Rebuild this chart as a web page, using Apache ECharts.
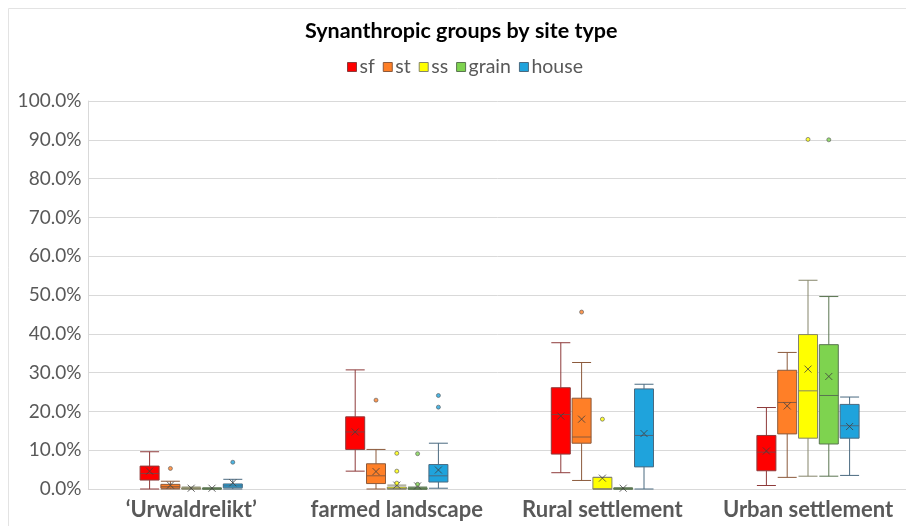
<!DOCTYPE html>
<html>
<head>
<meta charset="utf-8">
<title>Synanthropic groups by site type</title>
<script src="https://cdn.jsdelivr.net/npm/echarts@6/dist/echarts.min.js"></script>
<style>
  html, body { margin: 0; padding: 0; background: #fff; }
  #chart { width: 906px; height: 526px; }
</style>
</head>
<body>
<div id="chart"></div>
<script>
// categories and groups
var siteTypes = ['\u2018Urwaldrelikt\u2019', 'farmed landscape', 'Rural settlement', 'Urban settlement'];
var groupNames = ['sf', 'st', 'ss', 'grain', 'house'];

// y axis (percent)
var yMin = 0, yMax = 100, yStep = 10;

// box data per group, one row per site type: [min, Q1, median, Q3, max] in %
var sfBox = [[0, 2.3, 4.0, 5.9, 9.6], [4.6, 10.2, 14.7, 18.6, 30.7], [4.2, 9.0, 19.2, 26.1, 37.7], [0.9, 4.7, 9.5, 13.8, 21.0]];
var stBox = [[0, 0.2, 0.6, 1.2, 2.0], [0, 1.4, 3.4, 6.5, 10.2], [2.2, 11.8, 13.4, 23.4, 32.6], [3.0, 14.2, 22.3, 30.6, 35.2]];
var ssBox = [[0, 0, 0.1, 0.3, 0.5], [0, 0, 0.1, 0.5, 1.0], [0, 0, 0, 3.0, 3.0], [3.3, 13.1, 25.3, 39.8, 53.8]];
var grainBox = [[0, 0, 0, 0.2, 0.3], [0, 0, 0, 0.3, 0.5], [0, 0, 0, 0.2, 0.3], [3.3, 11.6, 24.1, 37.2, 49.6]];
var houseBox = [[0, 0.3, 0.8, 1.3, 2.5], [0.2, 1.8, 3.4, 6.3, 11.8], [0, 5.7, 13.8, 25.8, 27.0], [3.5, 13.1, 16.3, 21.8, 23.7]];

// means (the x markers)
var sfMean = [4.6, 14.7, 18.8, 9.8];
var stMean = [1.0, 4.5, 18.0, 21.4];
var ssMean = [0.2, 1.0, 2.8, 30.9];
var grainMean = [0.2, 0.8, 0.2, 29.0];
var houseMean = [1.6, 4.9, 14.3, 16.1];

// outliers: [site type index, value]
var sfOutliers = [];
var stOutliers = [[0, 5.3], [1, 22.9], [2, 45.6]];
var ssOutliers = [[1, 9.2], [1, 4.6], [1, 1.5], [2, 18.0], [3, 90.1]];
var grainOutliers = [[1, 9.1], [1, 1.2], [3, 90.0]];
var houseOutliers = [[0, 6.9], [1, 24.1], [1, 21.1]];

var boxes = [sfBox, stBox, ssBox, grainBox, houseBox];
var means = [sfMean, stMean, ssMean, grainMean, houseMean];
var outliers = [sfOutliers, stOutliers, ssOutliers, grainOutliers, houseOutliers];

var colors = ['#FF0000', '#FF7F27', '#FFFF00', '#7ED34F', '#1FA3DC'];
var borders = ['#8E3A3A', '#8C5A3C', '#85856A', '#5A7550', '#4A6A80'];

var gridLeft = 88.4, gridWidth = 822.4, gridTop = 101, gridHeight = 388;
var boxStep = 20.8; // distance between neighbouring boxes

var chart = echarts.init(document.getElementById('chart'));

var grids = [{ left: gridLeft, width: gridWidth, top: gridTop, height: gridHeight, outerBoundsMode: 'none', containLabel: false }];
var xAxes = [{
  type: 'category', gridIndex: 0, data: siteTypes,
  axisLine: { lineStyle: { color: '#d9d9d9' } },
  axisTick: { show: false },
  axisLabel: { interval: 0, hideOverlap: false, fontSize: 22, fontWeight: 'bold', color: '#595959', fontFamily: 'Lato', margin: 10 }
}];
var yAxes = [{
  type: 'value', gridIndex: 0, min: yMin, max: yMax, interval: yStep,
  axisLine: { show: true, lineStyle: { color: '#d9d9d9' } },
  axisTick: { show: false },
  splitLine: { lineStyle: { color: '#d9d9d9' } },
  axisLabel: {
    fontSize: 19, color: '#595959', fontFamily: 'Lato', margin: 7,
    formatter: function (v) { return v.toFixed(1) + '%'; }
  }
}];
var series = [];

groupNames.forEach(function (name, k) {
  var gi = k + 1;
  // each group sits in its own grid, shifted sideways so the boxes line up next to each other
  grids.push({
    left: gridLeft + (k - 2) * boxStep, width: gridWidth, top: gridTop, height: gridHeight,
    outerBoundsMode: 'none', containLabel: false
  });
  xAxes.push({ type: 'category', gridIndex: gi, data: siteTypes, show: false });
  yAxes.push({ type: 'value', gridIndex: gi, min: yMin, max: yMax, show: false, splitLine: { show: false } });

  series.push({
    name: name, type: 'boxplot', xAxisIndex: gi, yAxisIndex: gi,
    boxWidth: [19, 19],
    itemStyle: { color: colors[k], borderColor: borders[k], borderWidth: 1 },
    data: boxes[k]
  });
  series.push({
    name: name, type: 'scatter', xAxisIndex: gi, yAxisIndex: gi,
    symbol: 'path://M0,0L10,10M10,0L0,10', symbolSize: 7,
    itemStyle: { color: 'transparent', borderColor: '#404040', borderWidth: 1 },
    data: means[k].map(function (v, i) { return [i, v]; }),
    z: 5
  });
  series.push({
    name: name, type: 'scatter', xAxisIndex: gi, yAxisIndex: gi,
    symbol: 'circle', symbolSize: 4,
    itemStyle: { color: colors[k], borderColor: '#5a5a5a', borderWidth: 0.8 },
    data: outliers[k],
    z: 5
  });
});

chart.setOption({
  animation: false,
  backgroundColor: '#fff',
  title: {
    text: 'Synanthropic groups by site type',
    left: 300, top: 15,
    textStyle: { fontSize: 21.5, fontWeight: 'bold', color: '#000', fontFamily: 'Lato' }
  },
  legend: {
    top: 52, left: 342,
    itemWidth: 9, itemHeight: 9, itemGap: 8,
    textStyle: { fontSize: 19.5, color: '#595959', fontFamily: 'Lato', padding: [0, 0, 0, -2] },
    data: groupNames.map(function (n, k) {
      return { name: n, icon: 'rect', itemStyle: { color: colors[k], borderColor: borders[k], borderWidth: 1 } };
    })
  },
  graphic: [{
    type: 'rect', shape: { x: 8.5, y: 8.5, width: 920, height: 540 },
    style: { fill: 'none', stroke: '#e3e3e3', lineWidth: 1 }, silent: true
  }],
  grid: grids,
  xAxis: xAxes,
  yAxis: yAxes,
  series: series
});
</script>
</body>
</html>
